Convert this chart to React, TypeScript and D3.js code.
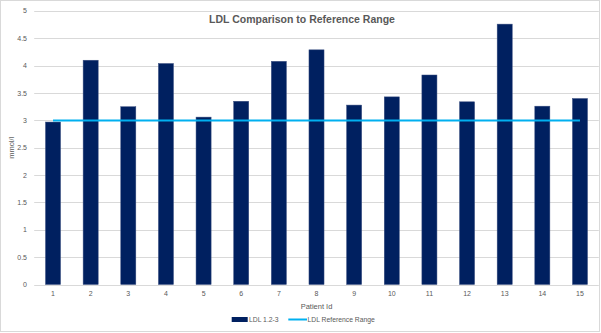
import React from "react";
import * as d3 from "d3";

const patientIds = ["1","2","3","4","5","6","7","8","9","10","11","12","13","14","15"];
const ldlValues = [2.97, 4.10, 3.25, 4.04, 3.06, 3.35, 4.08, 4.29, 3.28, 3.43, 3.83, 3.34, 4.76, 3.26, 3.40];
const referenceValues = [3, 3, 3, 3, 3, 3, 3, 3, 3, 3, 3, 3, 3, 3, 3];
const yTicks = [0, 0.5, 1, 1.5, 2, 2.5, 3, 3.5, 4, 4.5, 5];
const seriesNames = ["LDL 1.2-3", "LDL Reference Range"];

const W = 601, H = 333;
const left = 34.2, right = 598.8, top = 11, bottom = 284.5;
const FONT = "'Liberation Sans', Arial, sans-serif";
const TXT = "#595959";

export default function App() {
  const x = d3.scaleBand().domain(patientIds).range([left, right]).paddingInner(0.6).paddingOuter(0.3);
  const y = d3.scaleLinear().domain([0, 5]).range([bottom, top]);
  const bw = x.bandwidth();
  const cx = (id: string) => (x(id) as number) + bw / 2;
  const line = d3.line<number>().x((_, i) => cx(patientIds[i])).y((d) => y(d));
  const midX = (left + right) / 2;

  return (
    <svg width={W} height={H} style={{ position: "absolute", left: 0, top: 0, background: "#fff" }} fontFamily={FONT}>
      <rect x={0.5} y={0.5} width={599} height={331} fill="#fff" stroke="#d9d9d9" strokeWidth={1} />
      {yTicks.map((t) => (
        <g key={t}>
          <line x1={left} x2={right} y1={Math.round(y(t)) + 0.5} y2={Math.round(y(t)) + 0.5} stroke="#d9d9d9" strokeWidth={1} />
          <text x={27} y={y(t)} dy="0.35em" textAnchor="end" fontSize={7} fill={TXT}>{t}</text>
        </g>
      ))}
      {ldlValues.map((v, i) => (
        <rect key={i} x={x(patientIds[i])} y={y(v)} width={bw} height={y(0) - y(v)} fill="#002060" stroke="#3a4f80" strokeWidth={0.5} />
      ))}
      <path d={line(referenceValues) || ""} fill="none" stroke="#00B0F0" strokeWidth={2} />
      {patientIds.map((id) => (
        <text key={id} x={cx(id)} y={294} dy="0.35em" textAnchor="middle" fontSize={7} fill={TXT}>{id}</text>
      ))}
      <text x={midX} y={306.5} dy="0.35em" textAnchor="middle" fontSize={7.5} fill={TXT}>Patient Id</text>
      <text transform={`translate(11,${(top + bottom) / 2}) rotate(-90)`} dy="0.35em" textAnchor="middle" fontSize={7.5} fill={TXT}>mmol/l</text>
      <text x={302} y={19} dy="0.35em" textAnchor="middle" fontSize={10.5} fontWeight="bold" fill={TXT}>LDL Comparison to Reference Range</text>
      <rect x={231.7} y={317} width={16} height={5} fill="#002060" />
      <text x={249} y={319.5} dy="0.35em" fontSize={6.8} fill={TXT}>{seriesNames[0]}</text>
      <line x1={288.3} x2={307} y1={319.5} y2={319.5} stroke="#00B0F0" strokeWidth={2} />
      <text x={307.5} y={319.5} dy="0.35em" fontSize={6.8} fill={TXT}>{seriesNames[1]}</text>
    </svg>
  );
}
